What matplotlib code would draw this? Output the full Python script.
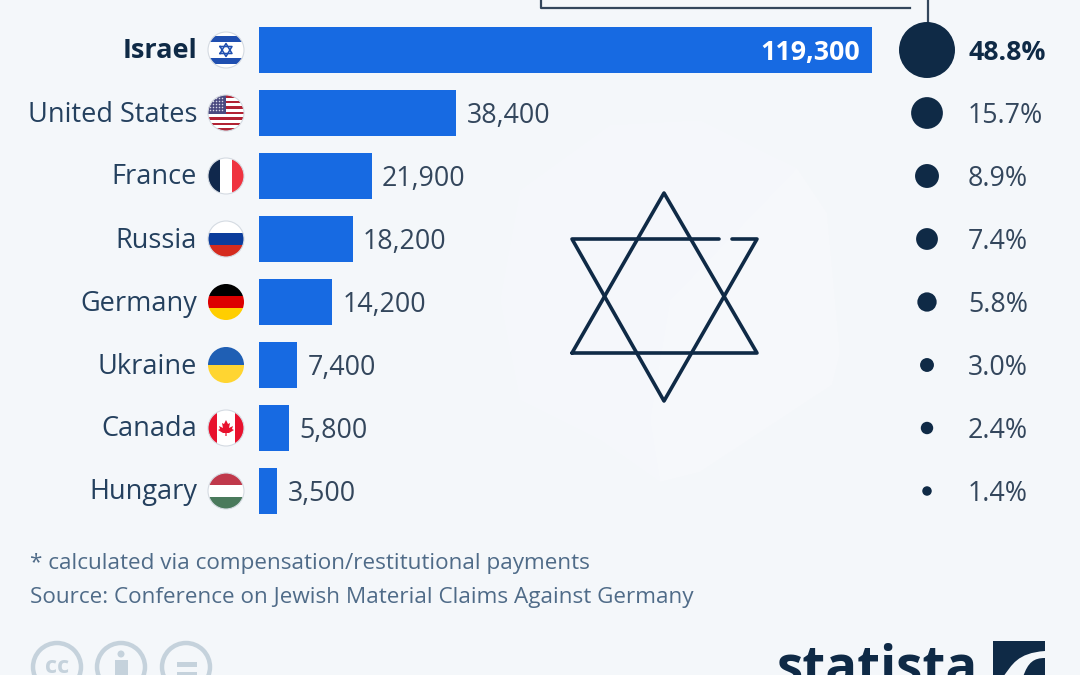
import numpy as np
import matplotlib
matplotlib.use('Agg')
import matplotlib.pyplot as plt
from matplotlib.patches import Circle, Rectangle, Polygon, PathPatch
from matplotlib.path import Path

plt.rcParams['font.family'] = ['Open Sans', 'DejaVu Sans']

countries = ['Israel', 'United States', 'France', 'Russia', 'Germany', 'Ukraine', 'Canada', 'Hungary']
values = [119300, 38400, 21900, 18200, 14200, 7400, 5800, 3500]
shares = [48.8, 15.7, 8.9, 7.4, 5.8, 3.0, 2.4, 1.4]
footnote = '* calculated via compensation/restitutional payments'
source = 'Source: Conference on Jewish Material Claims Against Germany'

BG = '#f4f7fa'
BLUE = '#176ae2'
NAVY = '#0f2a46'
TEXT = '#24405e'
GREY = '#4f6b88'
W, H = 1080, 675


def px_axes(x0, y0, x1, y1):
    # axes placed by pixel box, y counted from the top of the picture
    return fig.add_axes([x0 / W, 1 - y1 / H, (x1 - x0) / W, (y1 - y0) / H])


fig = plt.figure(figsize=(10.8, 6.75), dpi=100, facecolor=BG)

# background and decorations in pixel coordinates
deco = px_axes(0, 0, W, H)
deco.set_xlim(0, W)
deco.set_ylim(H, 0)
deco.axis('off')

blob = Path([(500, 300), (520, 190), (610, 125), (700, 120), (797, 168), (827, 213), (840, 353),
             (832, 385), (700, 472), (660, 482), (600, 440), (520, 400), (500, 300)])
deco.add_patch(PathPatch(blob, fc='#f5f7fb', ec='none', joinstyle='round'))
blob2 = Path([(670, 300), (797, 168), (827, 213), (840, 353), (832, 385), (700, 472), (660, 482),
              (650, 420), (670, 300)])
deco.add_patch(PathPatch(blob2, fc='#f6f8fb', ec='none', joinstyle='round'))

# star of david
star = dict(color=NAVY, lw=2.6, solid_joinstyle='round', solid_capstyle='round')
deco.plot([572, 664, 757, 572], [353, 193, 353, 353], **star)
deco.plot([719, 572, 664, 757, 732], [239, 239, 401, 239, 239], **star)

# bracket at top
deco.plot([541, 541, 910], [-2, 8, 8], color='#33465c', lw=1.6)
deco.plot([928, 928], [-2, 30], color='#33465c', lw=1.6)


def flag(cx, cy, stripes=None, vertical=None):
    clip = Circle((cx, cy), 18, transform=deco.transData)
    items = []
    if stripes:
        h = 36 / len(stripes)
        for i, c in enumerate(stripes):
            items.append(deco.add_patch(Rectangle((cx - 18, cy - 18 + i * h), 36, h + 0.3, fc=c, ec='none')))
    if vertical:
        for x0, w, c in vertical:
            items.append(deco.add_patch(Rectangle((cx - 18 + x0, cy - 18), w, 36, fc=c, ec='none')))
    for it in items:
        it.set_clip_path(clip)
    return clip


fx = 226
rows_y = [50, 113, 176, 239, 302, 365, 428, 491]

# israel
clip = flag(fx, rows_y[0], stripes=['#ffffff'])
for y0 in (-14, 8):
    r = deco.add_patch(Rectangle((fx - 18, rows_y[0] + y0), 36, 6, fc='#1f4fb0', ec='none'))
    r.set_clip_path(clip)
for s in (1, -1):
    deco.plot([fx - 6, fx, fx + 6, fx - 6],
              [rows_y[0] + s * 3.5, rows_y[0] - s * 6.5, rows_y[0] + s * 3.5, rows_y[0] + s * 3.5],
              color='#1f4fb0', lw=1.1)

# usa
us_stripes = ['#b22234', '#ffffff'] * 6 + ['#b22234']
clip = flag(fx, rows_y[1], stripes=us_stripes)
r = deco.add_patch(Rectangle((fx - 18, rows_y[1] - 18), 18, 19, fc='#4a4a80', ec='none'))
r.set_clip_path(clip)
sx, sy = np.meshgrid(np.arange(fx - 16, fx - 1, 3), np.arange(rows_y[1] - 15, rows_y[1], 3))
dots = deco.scatter(sx.ravel(), sy.ravel(), s=1.2, c='#d8d8e8', linewidths=0)
dots.set_clip_path(clip)

flag(fx, rows_y[2], vertical=[(0, 12, '#10284c'), (12, 12, '#ffffff'), (24, 12, '#ef3340')])
flag(fx, rows_y[3], stripes=['#ffffff', '#0b3d9c', '#d52b1e'])
flag(fx, rows_y[4], stripes=['#000000', '#dd0000', '#ffce00'])
flag(fx, rows_y[5], stripes=['#1f5fb4', '#ffd531'])

# canada
flag(fx, rows_y[6], vertical=[(0, 9, '#e8112d'), (9, 18, '#ffffff'), (27, 9, '#e8112d')])
leaf = [(0, -8), (2, -4), (4, -5), (3, 0), (7, -2), (6, 1), (8, 2), (3, 5), (0.6, 5), (0.6, 8),
        (-0.6, 8), (-0.6, 5), (-3, 5), (-8, 2), (-6, 1), (-7, -2), (-3, 0), (-4, -5), (-2, -4)]
deco.add_patch(Polygon([(fx + a, rows_y[6] + b) for a, b in leaf], fc='#e8112d', ec='none'))

flag(fx, rows_y[7], stripes=['#c0394b', '#ffffff', '#4a7a5c'])

# light ring on the flags with pale parts
for i in (0, 1, 2, 3, 6, 7):
    deco.add_patch(Circle((fx, rows_y[i]), 18, fc='none', ec='#d5dbe2', lw=0.8))

# bars
pos = np.arange(len(values))
ax = px_axes(259, 18.5, 872, 522.5)
ax.patch.set_alpha(0)
ax.barh(pos, values, height=0.73, color=BLUE)
ax.set_xlim(0, values[0])
ax.set_ylim(7.5, -0.5)
ax.axis('off')

for i, (name, val) in enumerate(zip(countries, values)):
    ax.annotate(name, (0, i), xytext=(-62, -1.5), textcoords='offset pixels', ha='right', va='center',
                fontsize=19.5, color=NAVY if i == 0 else TEXT, fontweight='bold' if i == 0 else 'normal')
    if i == 0:
        ax.annotate(f'{val:,}', (val, i), xytext=(-12, -3), textcoords='offset pixels', ha='right', va='center',
                    fontsize=19.3, color='white', fontweight='bold')
    else:
        ax.annotate(f'{val:,}', (val, i), xytext=(10.5, -3), textcoords='offset pixels', ha='left', va='center',
                    fontsize=19.3, color='#33465c')

# share dots
ax2 = px_axes(872, 18.5, 1080, 522.5)
ax2.patch.set_alpha(0)
ax2.set_xlim(872, 1080)
ax2.set_ylim(7.5, -0.5)
ax2.axis('off')
radius = 28 * np.sqrt(np.array(shares) / shares[0])
ax2.scatter([927] * len(shares), pos, s=(2 * radius * 0.72) ** 2, color=NAVY, linewidths=0, clip_on=False, zorder=3)
for i, sh in enumerate(shares):
    ax2.text(968, i + 0.05, f'{sh:.1f}%', ha='left', va='center', fontsize=19.3,
             color=NAVY if i == 0 else '#33465c', fontweight='bold' if i == 0 else 'normal')

# footer
deco.text(30, 564, footnote, ha='left', va='center', fontsize=16.2, color=GREY)
deco.text(30, 598, source, ha='left', va='center', fontsize=16.2, color=GREY)

# cc icons
for cx in (57, 121, 186):
    deco.add_patch(Circle((cx, 667), 24, fc='none', ec='#c5d2dc', lw=3.2, clip_on=True))
deco.text(57, 667, 'cc', ha='center', va='center', fontsize=17, color='#c5d2dc', fontweight='bold')
deco.add_patch(Circle((121, 654), 3.5, fc='#c5d2dc', ec='none'))
deco.add_patch(Rectangle((115, 660), 13, 20, fc='#c5d2dc', ec='none'))
deco.add_patch(Rectangle((177, 662), 20, 4.5, fc='#c5d2dc', ec='none'))
deco.add_patch(Rectangle((177, 672), 20, 4.5, fc='#c5d2dc', ec='none'))

# statista logo, cut by the bottom edge
deco.text(777, 683, 'statista', ha='left', va='baseline', fontsize=38, color=NAVY, fontweight='bold')
deco.add_patch(Rectangle((993, 641), 52, 40, fc=NAVY, ec='none'))
swoosh = Path([(1045, 651), (1017, 653), (1012, 665), (1003, 677), (1023, 677), (1028, 662), (1034, 658), (1045, 658), (1045, 651)],
              [Path.MOVETO, Path.CURVE4, Path.CURVE4, Path.CURVE4, Path.LINETO, Path.CURVE4, Path.CURVE4, Path.CURVE4, Path.CLOSEPOLY])
deco.add_patch(PathPatch(swoosh, fc=BG, ec='none'))

fig.savefig('out.png', dpi=100, facecolor=BG)
